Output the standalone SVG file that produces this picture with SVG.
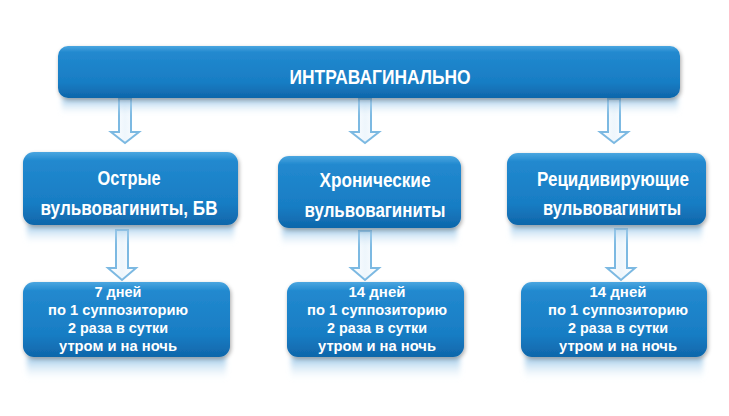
<svg xmlns="http://www.w3.org/2000/svg" width="729" height="416" viewBox="0 0 729 416">
<defs>
<linearGradient id="boxg" x1="0" y1="0" x2="0" y2="1">
<stop offset="0" stop-color="#4aa6e0"/>
<stop offset="0.12" stop-color="#2289cf"/>
<stop offset="0.7" stop-color="#187dc4"/>
<stop offset="1" stop-color="#0f66aa"/>
</linearGradient>
<linearGradient id="refl" x1="0" y1="0" x2="0" y2="1">
<stop offset="0" stop-color="#8cc0e6" stop-opacity="0.85"/>
<stop offset="1" stop-color="#d6e9f6" stop-opacity="0"/>
</linearGradient>
<linearGradient id="arrg" x1="0" y1="0" x2="1" y2="0">
<stop offset="0" stop-color="#ffffff"/>
<stop offset="0.5" stop-color="#eef6fc"/>
<stop offset="1" stop-color="#ffffff"/>
</linearGradient>
<filter id="sh" x="-5%" y="-10%" width="110%" height="130%">
<feGaussianBlur in="SourceAlpha" stdDeviation="2"/>
<feOffset dx="1" dy="2"/>
<feComponentTransfer><feFuncA type="linear" slope="0.35"/></feComponentTransfer>
<feMerge><feMergeNode/><feMergeNode in="SourceGraphic"/></feMerge>
</filter>
<filter id="blur" x="-10%" y="-50%" width="120%" height="200%">
<feGaussianBlur stdDeviation="2.5"/>
</filter>
</defs>
<style>
.box{fill:url(#boxg);filter:url(#sh)}
.refl{fill:url(#refl);filter:url(#blur)}
.arr{fill:url(#arrg);stroke:#7cb9e2;stroke-width:2;stroke-linejoin:miter}
.t{font-family:"Liberation Sans",Arial,sans-serif;font-weight:bold;fill:#ffffff;text-anchor:middle}
.t1{font-size:20px}
.t2{font-size:21px}
.t3{font-size:15.5px}
</style>
<rect width="729" height="416" fill="#ffffff"/>

<g id="connectors">
<path class="arr" d="M119,99 H131 V132 H139 L125,143 L111,132 H119 Z"/>
<path class="arr" d="M359,99 H371 V132 H379 L365,143 L351,132 H359 Z"/>
<path class="arr" d="M608,99 H620 V132 H628 L614,143 L600,132 H608 Z"/>
<path class="arr" d="M116,230 H128 V268 H136 L122,280 L108,268 H116 Z"/>
<path class="arr" d="M359,231 H371 V268 H379 L365,280 L351,268 H359 Z"/>
<path class="arr" d="M615,229 H627 V268 H635 L621,280 L607,268 H615 Z"/>
</g>

<g id="top">
<rect class="refl" x="62" y="98" width="616" height="16"/>
<rect class="box" x="58" y="46" width="622" height="52" rx="10"/>
<text class="t t1" x="380" y="84" textLength="181" lengthAdjust="spacingAndGlyphs">ИНТРАВАГИНАЛЬНО</text>
</g>

<g id="acute">
<rect class="refl" x="27" y="225" width="207" height="18"/>
<rect class="box" x="23" y="152" width="215" height="73" rx="11"/>
<text class="t t2" x="129" y="185" textLength="63" lengthAdjust="spacingAndGlyphs">Острые</text>
<text class="t t2" x="129" y="215" textLength="177" lengthAdjust="spacingAndGlyphs">вульвовагиниты, БВ</text>
</g>

<g id="chronic">
<rect class="refl" x="282" y="228" width="175" height="18"/>
<rect class="box" x="278" y="156" width="183" height="72" rx="11"/>
<text class="t t2" x="375" y="187" textLength="111" lengthAdjust="spacingAndGlyphs">Хронические</text>
<text class="t t2" x="375" y="217" textLength="141" lengthAdjust="spacingAndGlyphs">вульвовагиниты</text>
</g>

<g id="recurrent">
<rect class="refl" x="511" y="225" width="191" height="18"/>
<rect class="box" x="507" y="153" width="199" height="72" rx="11"/>
<text class="t t2" x="613" y="186" textLength="152" lengthAdjust="spacingAndGlyphs">Рецидивирующие</text>
<text class="t t2" x="612" y="215" textLength="138" lengthAdjust="spacingAndGlyphs">вульвовагиниты</text>
</g>

<g id="dose7">
<rect class="refl" x="27" y="357" width="199" height="22"/>
<rect class="box" x="23" y="282" width="207" height="75" rx="11"/>
<text class="t t3" x="118" y="297" textLength="47" lengthAdjust="spacingAndGlyphs">7 дней</text>
<text class="t t3" x="118" y="315" textLength="140" lengthAdjust="spacingAndGlyphs">по 1 суппозиторию</text>
<text class="t t3" x="118" y="333" textLength="100" lengthAdjust="spacingAndGlyphs">2 раза в сутки</text>
<text class="t t3" x="118" y="351" textLength="118" lengthAdjust="spacingAndGlyphs">утром и на ночь</text>
</g>

<g id="dose14a">
<rect class="refl" x="291" y="357" width="169" height="22"/>
<rect class="box" x="287" y="282" width="177" height="75" rx="11"/>
<text class="t t3" x="377" y="297" textLength="57" lengthAdjust="spacingAndGlyphs">14 дней</text>
<text class="t t3" x="377" y="315" textLength="140" lengthAdjust="spacingAndGlyphs">по 1 суппозиторию</text>
<text class="t t3" x="377" y="333" textLength="100" lengthAdjust="spacingAndGlyphs">2 раза в сутки</text>
<text class="t t3" x="377" y="351" textLength="118" lengthAdjust="spacingAndGlyphs">утром и на ночь</text>
</g>

<g id="dose14b">
<rect class="refl" x="525" y="357" width="178" height="22"/>
<rect class="box" x="521" y="282" width="186" height="75" rx="11"/>
<text class="t t3" x="618" y="297" textLength="57" lengthAdjust="spacingAndGlyphs">14 дней</text>
<text class="t t3" x="618" y="315" textLength="140" lengthAdjust="spacingAndGlyphs">по 1 суппозиторию</text>
<text class="t t3" x="618" y="333" textLength="100" lengthAdjust="spacingAndGlyphs">2 раза в сутки</text>
<text class="t t3" x="618" y="351" textLength="118" lengthAdjust="spacingAndGlyphs">утром и на ночь</text>
</g>
</svg>
